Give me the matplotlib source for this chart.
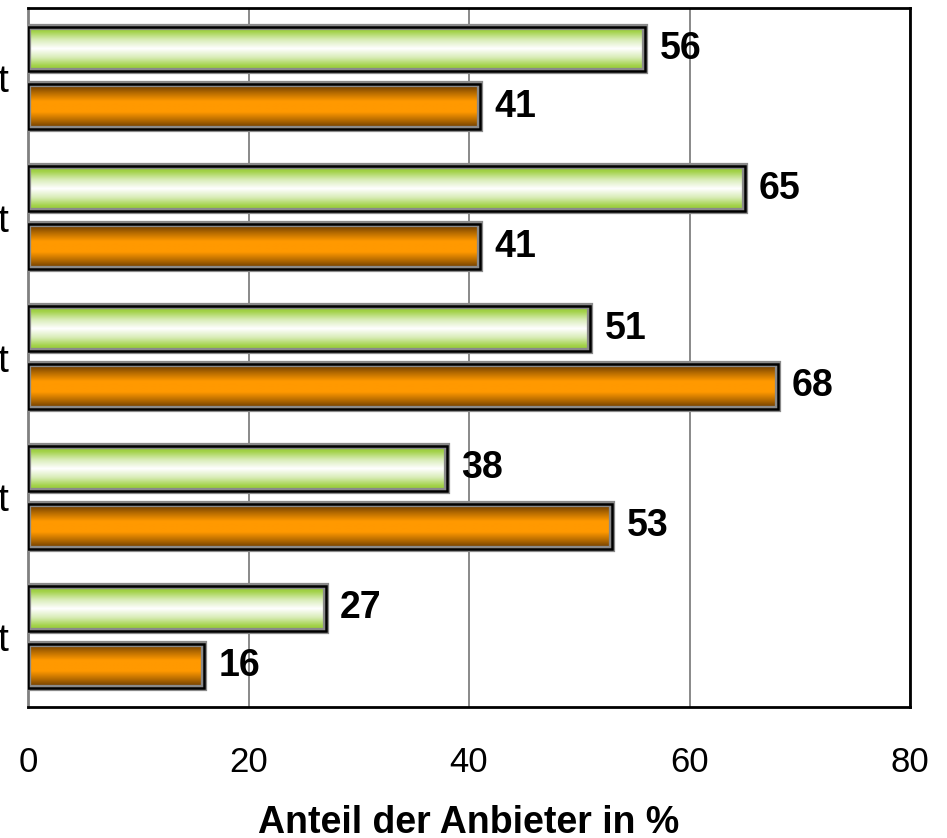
import numpy as np
import matplotlib
matplotlib.use("Agg")
import matplotlib.pyplot as plt
from matplotlib.patches import Rectangle
from matplotlib.colors import LinearSegmentedColormap
import matplotlib.patheffects as pe

plt.rcParams['font.family'] = ['Liberation Sans', 'DejaVu Sans']

# Data (top category first)
categories = ["t", "t", "t", "t", "t"]
green_values = [56, 65, 51, 38, 27]
orange_values = [41, 41, 68, 53, 16]
x_ticks = [0, 20, 40, 60, 80]
x_label = "Anteil der Anbieter in %"

green_cmap = LinearSegmentedColormap.from_list(
    "g", [(0.0, "#8fc72c"), (0.12, "#a3d24a"), (0.3, "#d8ecb6"), (0.5, "#ffffff"),
          (0.7, "#d8ecb6"), (0.88, "#a3d24a"), (1.0, "#8fc72c")])
orange_cmap = LinearSegmentedColormap.from_list(
    "o", [(0.0, "#5e3300"), (0.2, "#b86c00"), (0.38, "#ff9900"), (0.62, "#ff9900"),
          (0.8, "#b86c00"), (1.0, "#5e3300")])

fig = plt.figure(figsize=(9.47, 8.38), dpi=100)
ax = fig.add_axes([28 / 947, 1 - 707 / 838, (910 - 28) / 947, (707 - 8) / 838])

n = len(categories)
bar_h = 0.32
offset = 0.207
grad = np.linspace(0, 1, 256).reshape(-1, 1)


def gradient_bar(y, value, cmap):
    y0 = y - bar_h / 2
    rect = Rectangle((0, y0), value, bar_h, facecolor="none", edgecolor="black",
                     linewidth=1.8, zorder=4,
                     path_effects=[pe.Stroke(linewidth=4.5, foreground="#8a8a8a"), pe.Normal()])
    ax.add_patch(rect)
    im = ax.imshow(grad, cmap=cmap, aspect="auto", extent=[0, value, y0 + bar_h, y0],
                   zorder=3, interpolation="bilinear")
    im.set_clip_path(rect)
    ax.text(value + 1.3, y, f"{value}", va="center", ha="left",
            fontsize=27, fontweight="bold", zorder=5)


for i in range(n):
    gradient_bar(i - offset, green_values[i], green_cmap)
    gradient_bar(i + offset, orange_values[i], orange_cmap)

ax.set_xlim(0, 80)
ax.set_ylim(n - 0.5, -0.5)

ax.set_xticks(x_ticks)
ax.set_xticklabels([str(t) for t in x_ticks], fontsize=25)
ax.tick_params(axis="x", length=0, pad=28)
ax.set_yticks(range(n))
ax.set_yticklabels(categories, fontsize=28)
ax.tick_params(axis="y", length=0, pad=14)

ax.grid(axis="x", color="#808080", linewidth=1.3)
ax.set_axisbelow(True)
for s in ["top", "right", "bottom"]:
    ax.spines[s].set_linewidth(2)
    ax.spines[s].set_color("black")
ax.spines["left"].set_color("#808080")
ax.spines["left"].set_linewidth(2)

ax.set_xlabel(x_label, fontsize=27, fontweight="bold", labelpad=19)

fig.savefig("out.png", dpi=100)
